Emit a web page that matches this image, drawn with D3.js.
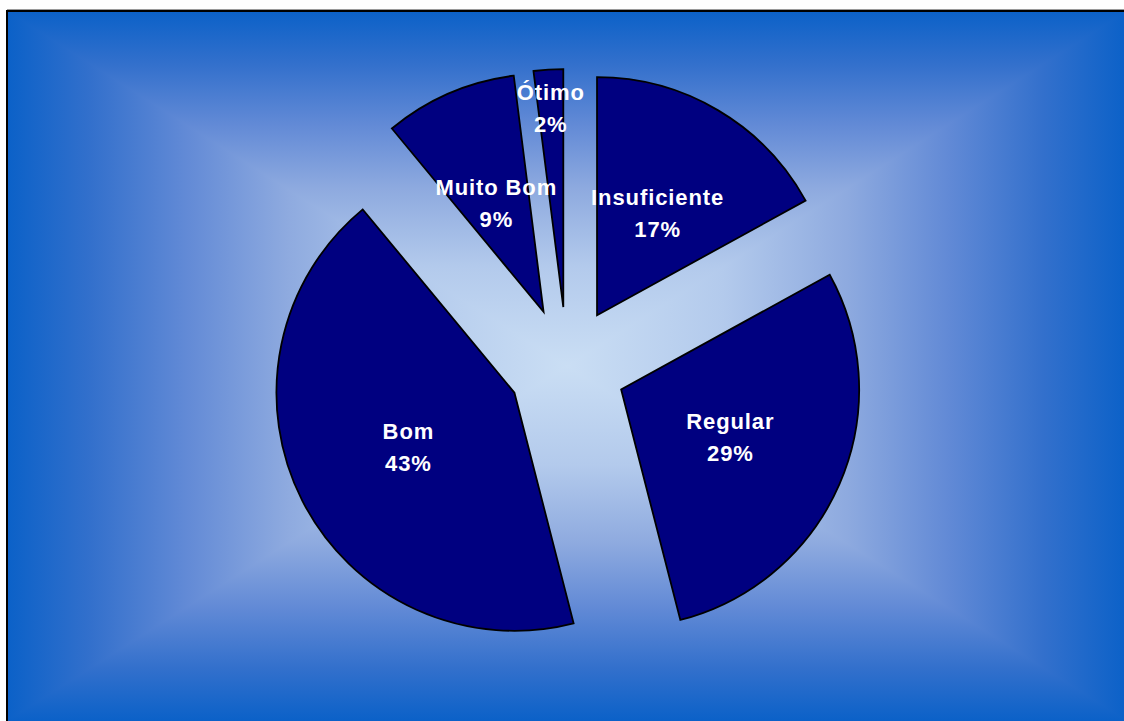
<!DOCTYPE html>
<html>
<head>
<meta charset="utf-8">
<script src="https://cdn.jsdelivr.net/npm/d3@7"></script>
<style>
  html, body { margin: 0; padding: 0; background: #ffffff; }
  svg { display: block; }
</style>
</head>
<body>
<script>
// ---- data ----
const categories = ["Insuficiente", "Regular", "Bom", "Muito Bom", "Ótimo"];
const values = [17, 29, 43, 9, 2];
const valueLabels = ["17%", "29%", "43%", "9%", "2%"];

// ---- layout ----
const W = 1124, H = 721;
const frame = { x0: 7, y0: 11, x1: 1127, y1: 721 };
const cx = 567, cy = 366;
const radius = 238;
const explode = 59;

const svg = d3.select("body").append("svg")
  .attr("width", W).attr("height", H);

const defs = svg.append("defs");
const stops = [
  [0, "#0b61c8"], [0.15, "#3370cc"], [0.32, "#628ad6"],
  [0.5, "#8eaadf"], [0.72, "#b3caec"], [1, "#cadef4"]
];
function grad(id, x1, y1, x2, y2) {
  const g = defs.append("linearGradient").attr("id", id)
    .attr("gradientUnits", "userSpaceOnUse")
    .attr("x1", x1).attr("y1", y1).attr("x2", x2).attr("y2", y2);
  stops.forEach(s => g.append("stop").attr("offset", s[0]).attr("stop-color", s[1]));
}
grad("gTop", 0, frame.y0, 0, cy);
grad("gBottom", 0, frame.y1, 0, cy);
grad("gLeft", frame.x0, 0, cx, 0);
grad("gRight", frame.x1, 0, cx, 0);

const bg = svg.append("g");
// top and bottom halves as full rectangles underneath
bg.append("rect").attr("x", frame.x0).attr("y", frame.y0)
  .attr("width", frame.x1 - frame.x0).attr("height", cy - frame.y0 + 1).attr("fill", "url(#gTop)");
bg.append("rect").attr("x", frame.x0).attr("y", cy)
  .attr("width", frame.x1 - frame.x0).attr("height", frame.y1 - cy).attr("fill", "url(#gBottom)");
const tri = (pts, fill) => bg.append("polygon")
  .attr("points", pts.map(p => p.join(",")).join(" "))
  .attr("fill", fill);
tri([[frame.x0, frame.y0], [frame.x0, frame.y1], [cx, cy]], "url(#gLeft)");
tri([[frame.x1, frame.y0], [frame.x1, frame.y1], [cx, cy]], "url(#gRight)");

svg.append("line").attr("x1", frame.x0).attr("x2", W).attr("y1", 9.5).attr("y2", 9.5)
  .attr("stroke", "#9a9a9a").attr("stroke-width", 1);
svg.append("rect")
  .attr("x", frame.x0).attr("y", frame.y0)
  .attr("width", frame.x1 - frame.x0).attr("height", frame.y1 - frame.y0 + 10)
  .attr("fill", "none").attr("stroke", "#000").attr("stroke-width", 2);

// ---- pie ----
const data = categories.map((c, i) => ({ cat: c, value: values[i], label: valueLabels[i] }));
const pie = d3.pie().value(d => d.value).sort(null).startAngle(0).endAngle(2 * Math.PI);
const arcs = pie(data);
const arc = d3.arc().innerRadius(0).outerRadius(radius);

const g = svg.append("g").attr("transform", `translate(${cx},${cy})`);
const mid = d => (d.startAngle + d.endAngle) / 2;

g.selectAll("path.slice").data(arcs).enter().append("path")
  .attr("class", "slice")
  .attr("transform", d => `translate(${explode * Math.sin(mid(d))},${-explode * Math.cos(mid(d))})`)
  .attr("d", arc)
  .attr("fill", "#000080")
  .attr("stroke", "#000")
  .attr("stroke-width", 1.8)
  .attr("stroke-linejoin", "miter");

const txt = g.selectAll("text.lbl").data(arcs).enter().append("text")
  .attr("class", "lbl")
  .attr("text-anchor", "middle")
  .attr("fill", "#ffffff")
  .attr("font-family", "Liberation Sans, Arial, sans-serif")
  .attr("font-weight", "bold")
  .attr("font-size", 22)
  .attr("letter-spacing", 0.9)
  .attr("transform", d => {
    const m = mid(d);
    const small = (d.endAngle - d.startAngle) < 0.2;
    const lr = explode + radius * (small ? 0.84 : 0.5);
    return `translate(${lr * Math.sin(m)},${-lr * Math.cos(m)})`;
  });
txt.append("tspan").attr("x", 0).attr("y", -8).text(d => d.data.cat);
txt.append("tspan").attr("x", 0).attr("y", 24).text(d => d.data.label);
</script>
</body>
</html>
